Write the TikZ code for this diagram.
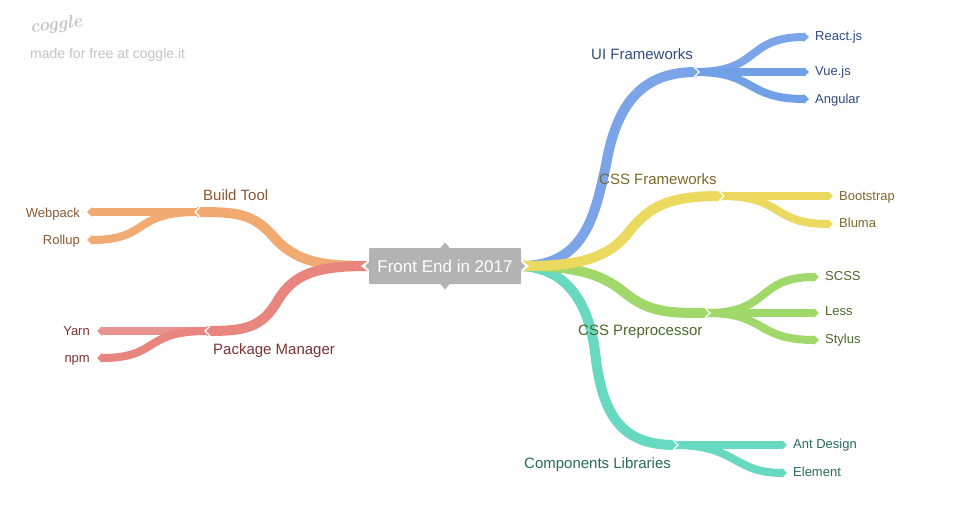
\documentclass[tikz,border=0pt]{standalone}
\usepackage{fontspec}
\setmainfont{Liberation Sans}
\newfontfamily\logofont{Latin Modern Roman}
\usetikzlibrary{arrows.meta}
\definecolor{cblue}{HTML}{7BA5E8}\definecolor{cblueb}{HTML}{72A0E6}
\definecolor{cyel}{HTML}{ECD95F}\definecolor{cgrn}{HTML}{A0D86A}
\definecolor{cteal}{HTML}{68D9C1}\definecolor{corg}{HTML}{F2AA73}
\definecolor{cred}{HTML}{E8857F}\definecolor{credl}{HTML}{E89490}
\definecolor{tblue}{HTML}{2F4D80}\definecolor{tyel}{HTML}{7A6A2B}
\definecolor{tgrn}{HTML}{4A6B2C}\definecolor{tteal}{HTML}{2B6B5C}
\definecolor{torg}{HTML}{8C5733}\definecolor{tred}{HTML}{7C3333}
\definecolor{cgrey}{HTML}{B3B3B3}\definecolor{clogo}{HTML}{C4C4C4}
\tikzset{
 x=1pt,y=-1pt,
 main/.style={line width=10pt,line cap=butt},
 leaf/.style={line width=8pt,-{Triangle[length=5pt,width=9.5pt]}},
 branchlabel/.style={font=\fontsize{15}{18}\selectfont,inner sep=0pt,anchor=base west},
 leaflabel/.style={font=\fontsize{13}{16}\selectfont,inner sep=0pt},
 chev/.style={white,line width=1.2pt,line join=miter},
}
\begin{document}
\begin{tikzpicture}
\useasboundingbox (0,0) rectangle (970,514);
\fill[white] (0,0) rectangle (970,514);
% anchors
\coordinate (cr) at (521,266);\coordinate (cl) at (369,266);
\coordinate (ui) at (696,72);\coordinate (cf) at (721,196);
\coordinate (cp) at (707,313);\coordinate (cc) at (675,445);
\coordinate (bt) at (197,212);\coordinate (pm) at (207,331);
\coordinate (lreact) at (809,37);\coordinate (lvue) at (809,72);\coordinate (lang) at (809,99);
\coordinate (lboot) at (833,196);\coordinate (lbul) at (833,224);
\coordinate (lscss) at (819,277);\coordinate (lless) at (819,313);\coordinate (lsty) at (819,340);
\coordinate (lant) at (787,445);\coordinate (lele) at (787,473);
\coordinate (lweb) at (87,212);\coordinate (lroll) at (87,240);
\coordinate (lyarn) at (97,331);\coordinate (lnpm) at (97,358);
% right branches
\draw[main,cteal] (cr) .. controls (565,268) and (590,300) .. (596,360) .. controls (604,420) and (625,445) .. (cc);
\draw[main,cgrn] (cr) .. controls (570,266) and (600,272) .. (625,293) .. controls (650,313) and (670,313) .. (cp);
\draw[main,cblue] (cr) .. controls (585,266) and (595,215) .. (606,165) .. controls (617,100) and (645,72) .. (ui);
\draw[main,cyel] (cr) .. controls (570,266) and (605,262) .. (628,233) .. controls (650,205) and (670,196) .. (cf);
% left branches
\draw[main,corg] (cl) .. controls (320,266) and (295,262) .. (272,235) .. controls (252,213) and (235,212) .. (bt);
\draw[main,cred] (cl) .. controls (320,266) and (295,272) .. (278,300) .. controls (262,328) and (245,331) .. (pm);
% leaves
\draw[leaf,cblue] (ui) .. controls +(65,0) and (745,37) .. (lreact);
\draw[leaf,cblueb] (ui) -- (lvue);
\draw[leaf,cblueb] (ui) .. controls +(60,0) and (745,99) .. (lang);
\draw[leaf,cyel] (cf) -- (lboot);
\draw[leaf,cyel] (cf) .. controls (785,196) and (770,224) .. (lbul);
\draw[leaf,cgrn] (cp) .. controls +(65,0) and (755,277) .. (lscss);
\draw[leaf,cgrn] (cp) -- (lless);
\draw[leaf,cgrn] (cp) .. controls +(60,0) and (755,340) .. (lsty);
\draw[leaf,cteal] (cc) -- (lant);
\draw[leaf,cteal] (cc) .. controls (737,445) and (733,473) .. (lele);
\draw[leaf,corg] (bt) -- (lweb);
\draw[leaf,corg] (bt) .. controls +(-65,0) and (150,240) .. (lroll);
\draw[leaf,credl] (pm) -- (lyarn);
\draw[leaf,cred] (pm) .. controls +(-65,0) and (160,358) .. (lnpm);
% chevrons
\draw[chev] ([shift={(-2,-5)}]ui) -- ([shift={(3,0)}]ui) -- ([shift={(-2,5)}]ui);
\draw[chev] ([shift={(-2,-5)}]cf) -- ([shift={(3,0)}]cf) -- ([shift={(-2,5)}]cf);
\draw[chev] ([shift={(-2,-5)}]cp) -- ([shift={(3,0)}]cp) -- ([shift={(-2,5)}]cp);
\draw[chev] ([shift={(-2,-5)}]cc) -- ([shift={(3,0)}]cc) -- ([shift={(-2,5)}]cc);
\draw[chev] ([shift={(3,-5)}]bt) -- ([shift={(-2,0)}]bt) -- ([shift={(3,5)}]bt);
\draw[chev] ([shift={(3,-5)}]pm) -- ([shift={(-2,0)}]pm) -- ([shift={(3,5)}]pm);
% centre
\fill[white] (370,259) -- (361,266) -- (370,273) -- cycle;
\fill[white] (520,259) -- (529,266) -- (520,273) -- cycle;
\node[fill=cgrey,rounded corners=1pt,minimum width=152pt,minimum height=36pt,inner sep=0pt,text=white,font=\fontsize{17}{20}\selectfont] (root) at (445,266) {\raisebox{-1pt}{Front End in 2017}};
\fill[cgrey] (445,242.5) -- (450,248.5) -- (440,248.5) -- cycle;
\fill[cgrey] (445,289.5) -- (450,283.5) -- (440,283.5) -- cycle;
\fill[cgrey] (370,261) -- (365,266) -- (370,271) -- cycle;
\fill[cgrey] (520,261) -- (525,266) -- (520,271) -- cycle;
% labels
\node[branchlabel,text=tblue] (nui) at (591,59) {UI Frameworks};
\node[branchlabel,text=tyel] (ncf) at (599,184) {CSS Frameworks};
\node[branchlabel,text=tgrn] (ncp) at (578,335) {CSS Preprocessor};
\node[branchlabel,text=tteal] (ncc) at (524,468) {Components Libraries};
\node[branchlabel,text=torg] (nbt) at (203,200) {Build Tool};
\node[branchlabel,text=tred] (npm) at (213,354) {Package Manager};
\node[leaflabel,anchor=base west,text=tblue] (nreact) at (815,40) {React.js};
\node[leaflabel,anchor=base west,text=tblue] (nvue) at (815,75) {Vue.js};
\node[leaflabel,anchor=base west,text=tblue] (nang) at (815,103) {Angular};
\node[leaflabel,anchor=base west,text=tyel] (nboot) at (839,200) {Bootstrap};
\node[leaflabel,anchor=base west,text=tyel] (nbul) at (839,227) {Bluma};
\node[leaflabel,anchor=base west,text=tgrn] (nscss) at (825,280) {SCSS};
\node[leaflabel,anchor=base west,text=tgrn] (nless) at (825,315) {Less};
\node[leaflabel,anchor=base west,text=tgrn] (nsty) at (825,343) {Stylus};
\node[leaflabel,anchor=base west,text=tteal] (nant) at (793,448) {Ant Design};
\node[leaflabel,anchor=base west,text=tteal] (nele) at (793,476) {Element};
\node[leaflabel,anchor=base east,text=torg] (nweb) at (80,217) {Webpack};
\node[leaflabel,anchor=base east,text=torg] (nroll) at (80,244) {Rollup};
\node[leaflabel,anchor=base east,text=tred] (nyarn) at (90,335) {Yarn};
\node[leaflabel,anchor=base east,text=tred] (nnpm) at (90,362) {npm};
% logo
\node[text=clogo,anchor=west,inner sep=0pt,font=\logofont\fontsize{18}{22}\selectfont\itshape\bfseries,rotate=6] (logo) at (30,28) {coggle};
\node[text=clogo,anchor=base west,inner sep=0pt,font=\fontsize{14}{17}\selectfont] (made) at (30,58) {made for free at coggle.it};
\end{tikzpicture}
\end{document}
